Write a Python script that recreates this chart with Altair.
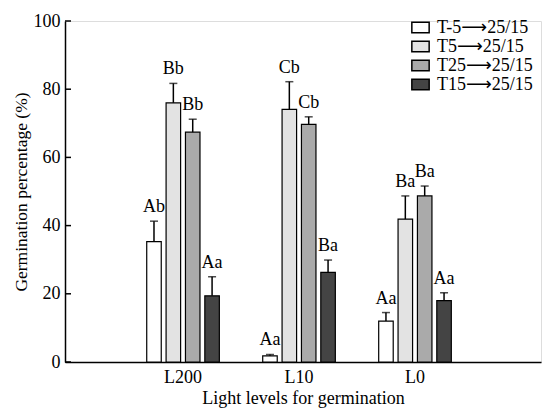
import altair as alt
import pandas as pd

levels = ["L200", "L10", "L0"]
treatments = ["T-5⟶25/15", "T5⟶25/15", "T25⟶25/15", "T15⟶25/15"]
colors = ["#ffffff", "#e3e3e3", "#aaaaaa", "#444444"]
ytick_values = [0, 20, 40, 60, 80, 100]

# values per light level, in treatment order
means = {
    "L200": [35.3, 76.0, 67.4, 19.4],
    "L10": [1.8, 74.1, 69.7, 26.3],
    "L0": [12.0, 41.9, 48.7, 18.0],
}
errors = {
    "L200": [6.0, 5.7, 3.8, 5.6],
    "L10": [0.4, 8.1, 2.2, 3.6],
    "L0": [2.5, 6.8, 2.9, 2.3],
}
letters = {
    "L200": ["Ab", "Bb", "Bb", "Aa"],
    "L10": ["Aa", "Cb", "Cb", "Ba"],
    "L0": ["Aa", "Ba", "Ba", "Aa"],
}

rows = []
for lv in levels:
    for i, t in enumerate(treatments):
        m = means[lv][i]
        e = errors[lv][i]
        rows.append({"level": lv, "treatment": t, "mean": m, "top": m + e, "letter": letters[lv][i]})
df = pd.DataFrame(rows)
ticks_df = pd.DataFrame({"v": ytick_values})

FONT = "Liberation Serif"
LFONT = "Liberation Serif, DejaVu Sans"

xenc = alt.X("level:N", sort=levels,
             scale=alt.Scale(paddingInner=0.04, paddingOuter=0.572, align=0.47),
             axis=alt.Axis(title="Light levels for germination", labelAngle=0, ticks=False,
                           labelFontSize=18, titleFontSize=18, labelPadding=6,
                           titlePadding=3, domainColor="black", domainWidth=1.5,
                           labelColor="black", titleColor="black",
                           labelFont=FONT, titleFont=FONT, titleFontWeight="normal"))
xoff = alt.XOffset("treatment:N", sort=treatments,
                   scale=alt.Scale(paddingInner=0.25, paddingOuter=1))
yscale = alt.Scale(domain=[0, 100], nice=False)

base = alt.Chart(df)

bars = base.mark_bar(stroke="black", strokeWidth=1.2).encode(
    x=xenc,
    xOffset=xoff,
    y=alt.Y("mean:Q", scale=yscale,
            axis=alt.Axis(title="Germination percentage (%)", values=ytick_values,
                          grid=False, ticks=False,
                          domainColor="black", domainWidth=1.5, labelFontSize=18,
                          titleFontSize=17.5, labelColor="black", titleColor="black",
                          labelFont=FONT, titleFont=FONT, titleFontWeight="normal",
                          labelPadding=5, titlePadding=3)),
    fill=alt.Fill("treatment:N", sort=treatments,
                  scale=alt.Scale(domain=treatments, range=colors),
                  legend=alt.Legend(title=None, orient="none", legendX=346, legendY=-3,
                                    labelFont=LFONT, labelFontSize=18, labelColor="black",
                                    symbolType="M-1,-0.62H1V0.62H-1Z", symbolSize=300,
                                    symbolStrokeColor="black", symbolStrokeWidth=1.5,
                                    rowPadding=0, labelOffset=7)),
)

yticks = alt.Chart(ticks_df).mark_rule(color="black", strokeWidth=1.5).encode(
    y=alt.Y("v:Q", scale=yscale), x=alt.value(0), x2=alt.value(6)
)

err = base.mark_rule(color="black", strokeWidth=1.5).encode(
    x=xenc, xOffset=xoff, y="mean:Q", y2="top:Q"
)
caps = base.mark_tick(color="black", thickness=1.5, size=8, orient="horizontal").encode(
    x=xenc, xOffset=xoff, y=alt.Y("top:Q", scale=yscale)
)
labels = base.mark_text(baseline="bottom", dy=-5, font=FONT, fontSize=18, color="black").encode(
    x=xenc, xOffset=xoff, y=alt.Y("top:Q", scale=yscale), text="letter:N"
)

chart = alt.layer(bars, yticks, err, caps, labels).properties(
    width=476, height=341,
    autosize=alt.AutoSizeParams(type="none"),
    padding={"left": 65, "top": 21, "right": 1, "bottom": 49},
).configure_view(stroke=None).configure(background="white")

chart.save("out.html", embed_options={"renderer": "svg", "actions": False})
